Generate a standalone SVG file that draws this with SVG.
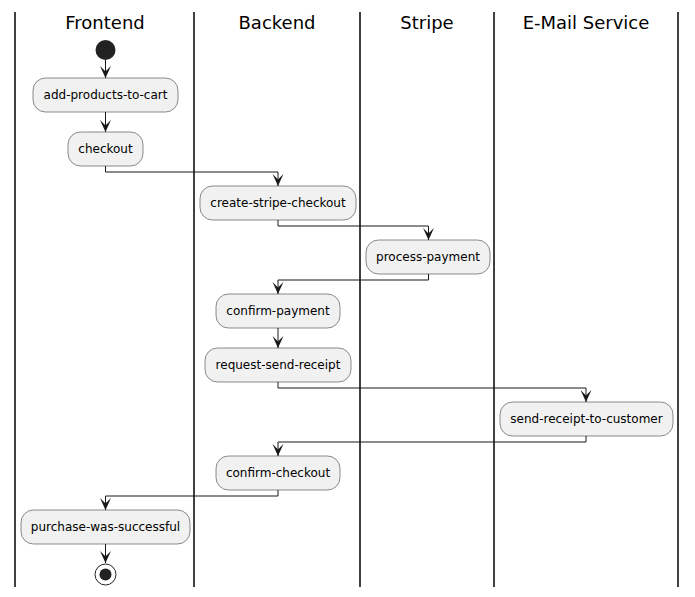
<svg xmlns="http://www.w3.org/2000/svg" width="695" height="597" viewBox="0 0 695 597">
<style>
.lane{stroke:#000;stroke-width:1.5;fill:none}
.title{font-family:"DejaVu Sans",sans-serif;font-size:18px;fill:#000;text-anchor:middle}
.box{fill:#F1F1F1;stroke:#181818;stroke-width:0.5}
.lbl{font-family:"DejaVu Sans",sans-serif;font-size:12px;fill:#000;text-anchor:middle}
.con{stroke:#181818;stroke-width:1;fill:none;marker-end:url(#arr)}
</style>
<defs>
<marker id="arr" markerUnits="userSpaceOnUse" markerWidth="12" markerHeight="12" refX="5.5" refY="11" orient="0" viewBox="0 0 11 11" overflow="visible">
<path d="M0.5,0 L5.5,11 L10.5,0 L5.5,5 Z" fill="#181818"/>
</marker>
</defs>
<rect width="695" height="597" fill="#fff"/>
<g id="lanes">
<line class="lane" x1="15" y1="12" x2="15" y2="587"/>
<line class="lane" x1="194" y1="12" x2="194" y2="587"/>
<line class="lane" x1="360" y1="12" x2="360" y2="587"/>
<line class="lane" x1="494" y1="12" x2="494" y2="587"/>
<line class="lane" x1="678" y1="12" x2="678" y2="587"/>
<text class="title" x="105" y="29">Frontend</text>
<text class="title" x="277" y="29">Backend</text>
<text class="title" x="427" y="29">Stripe</text>
<text class="title" x="586" y="29">E-Mail Service</text>
</g>
<g id="connectors">
<path class="con" d="M105.5,60 V78"/>
<path class="con" d="M105.5,112 V132"/>
<path class="con" d="M105.5,166 V172 H278 V186"/>
<path class="con" d="M278,220 V226 H428.5 V240"/>
<path class="con" d="M428.5,274 V280 H278 V294"/>
<path class="con" d="M278,328 V348"/>
<path class="con" d="M278,382 V388 H586 V402"/>
<path class="con" d="M586,436 V442 H278 V456"/>
<path class="con" d="M278,490 V496 H105.5 V510"/>
<path class="con" d="M105.5,544 V563"/>
</g>
<g id="start"><circle cx="105.5" cy="50" r="10" fill="#222"/></g>
<g id="add-products-to-cart"><rect class="box" x="33" y="78" width="145" height="34" rx="12.5"/><text class="lbl" x="105.5" y="99">add-products-to-cart</text></g>
<g id="checkout"><rect class="box" x="68" y="132" width="75" height="34" rx="12.5"/><text class="lbl" x="105.5" y="153">checkout</text></g>
<g id="create-stripe-checkout"><rect class="box" x="200" y="186" width="156" height="34" rx="12.5"/><text class="lbl" x="278" y="207">create-stripe-checkout</text></g>
<g id="process-payment"><rect class="box" x="366" y="240" width="124" height="34" rx="12.5"/><text class="lbl" x="428" y="261">process-payment</text></g>
<g id="confirm-payment"><rect class="box" x="216" y="294" width="124" height="34" rx="12.5"/><text class="lbl" x="278" y="315">confirm-payment</text></g>
<g id="request-send-receipt"><rect class="box" x="205" y="348" width="146" height="34" rx="12.5"/><text class="lbl" x="278" y="369">request-send-receipt</text></g>
<g id="send-receipt-to-customer"><rect class="box" x="500" y="402" width="173" height="34" rx="12.5"/><text class="lbl" x="586.5" y="423">send-receipt-to-customer</text></g>
<g id="confirm-checkout"><rect class="box" x="216" y="456" width="124" height="34" rx="12.5"/><text class="lbl" x="278" y="477">confirm-checkout</text></g>
<g id="purchase-was-successful"><rect class="box" x="21" y="510" width="169" height="34" rx="12.5"/><text class="lbl" x="105.5" y="531">purchase-was-successful</text></g>
<g id="end"><circle cx="105.5" cy="574.5" r="10.5" fill="none" stroke="#222" stroke-width="1"/><circle cx="105.5" cy="574.5" r="6" fill="#222"/></g>
</svg>
